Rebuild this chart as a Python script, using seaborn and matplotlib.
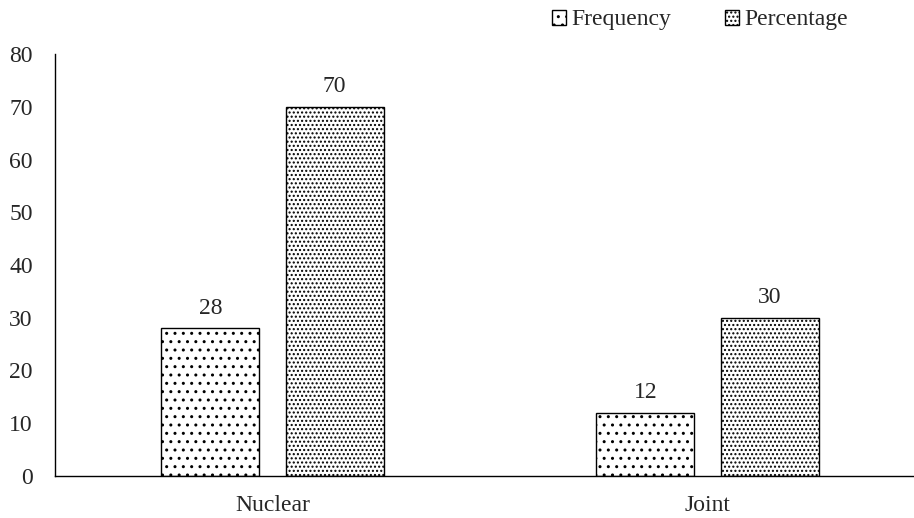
import matplotlib
matplotlib.use("Agg")
import matplotlib.pyplot as plt
import seaborn as sns
import pandas as pd

categories = ["Nuclear", "Joint"]
series = ["Frequency", "Percentage"]
frequency = [28, 12]
percentage = [70, 30]
y_ticks = [0, 10, 20, 30, 40, 50, 60, 70, 80]

df = pd.DataFrame({
    "Family": categories * 2,
    "Series": [series[0]] * len(categories) + [series[1]] * len(categories),
    "Value": frequency + percentage,
})

sns.set_style("white")
plt.rcParams["font.family"] = ["Liberation Serif", "DejaVu Serif"]
plt.rcParams["hatch.linewidth"] = 1.0

W, H = 914, 518
fig = plt.figure(figsize=(W / 100, H / 100), dpi=100)
ax_left, ax_right, ax_top, ax_bottom = 55, 914, 54, 476
ax = fig.add_axes([ax_left / W, 1 - ax_bottom / H, (ax_right - ax_left) / W, (ax_bottom - ax_top) / H])

sns.barplot(data=df, x="Family", y="Value", hue="Series", order=categories,
            hue_order=series, palette=["white", "white"], edgecolor="black",
            linewidth=1.0, width=0.572, gap=0.213, legend=False, ax=ax)

hatches = ["..", "...."]
for cont, h in zip(ax.containers, hatches):
    for bar in cont:
        bar.set_hatch(h)
        bar.set_edgecolor("black")
    ax.bar_label(cont, fmt="%g", padding=7, fontsize=17)

ax.set_ylim(0, 80)
ax.set_yticks(y_ticks)
ax.set_xlim(-0.5, -0.5 + (ax_right - ax_left) / 435)
ax.set_xlabel("")
ax.set_ylabel("")
ax.tick_params(axis="both", length=0, labelsize=17)
ax.tick_params(axis="y", pad=16)
ax.tick_params(axis="x", pad=14)
for s in ["top", "right"]:
    ax.spines[s].set_visible(False)
for s in ["left", "bottom"]:
    ax.spines[s].set_color("black")
    ax.spines[s].set_linewidth(1.0)

fig.legend(handles=[c[0] for c in ax.containers], labels=series, loc="center left",
           bbox_to_anchor=(552 / W, 1 - 20 / H), ncol=2, frameon=False,
           fontsize=17, handlelength=0.6, handleheight=0.6, handletextpad=0.2,
           columnspacing=2.3, borderpad=0, borderaxespad=0)

fig.savefig("out.png", dpi=100)
